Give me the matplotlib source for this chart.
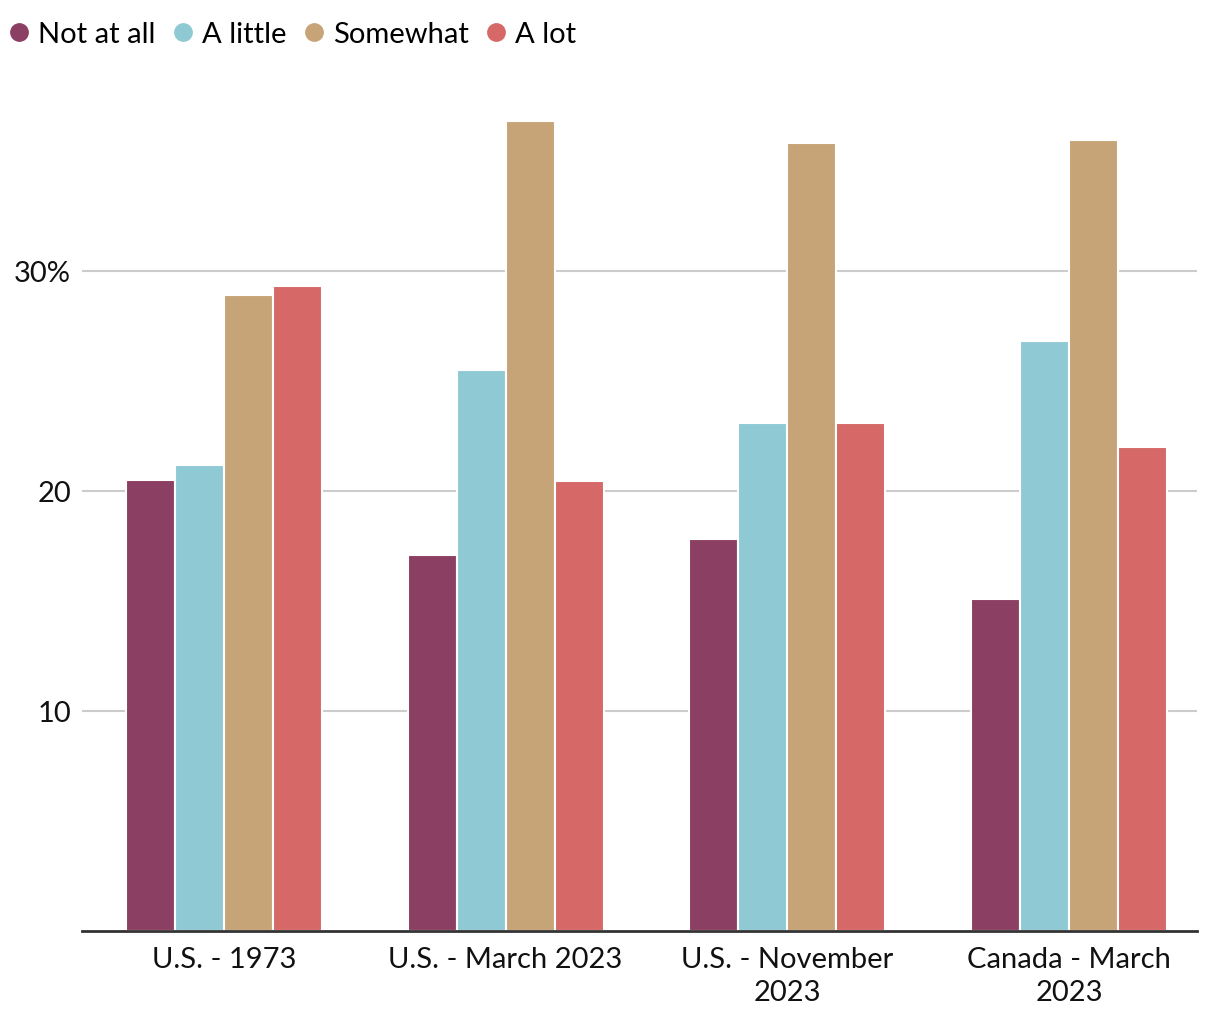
import numpy as np
import matplotlib.pyplot as plt
from matplotlib.lines import Line2D

plt.rcParams['font.family'] = ['Lato', 'DejaVu Sans']

# data (percent)
groups = ['U.S. - 1973', 'U.S. - March 2023', 'U.S. - November\n2023', 'Canada - March\n2023']
series = ['Not at all', 'A little', 'Somewhat', 'A lot']
not_at_all = [20.5, 17.1, 17.8, 15.1]
a_little = [21.2, 25.5, 23.1, 26.8]
somewhat = [28.9, 36.8, 35.8, 35.95]
a_lot = [29.3, 20.45, 23.1, 22.0]
colors = ['#8B3F62', '#8FCAD4', '#C7A478', '#D66868']

values = [not_at_all, a_little, somewhat, a_lot]

fig = plt.figure(figsize=(12.2, 10.2), dpi=100)
ax = fig.add_axes([82 / 1220, 1 - 932 / 1020, 1115 / 1220, 832 / 1020])

x = np.arange(len(groups))
step = 0.174
for i, (vals, c) in enumerate(zip(values, colors)):
    ax.bar(x + (i - 1.5) * step, vals, width=step, color=c,
           edgecolor='white', linewidth=1.5, zorder=3)

ax.set_xlim(-0.5035, 3.454)
ax.set_ylim(0, 832 / 22)
ax.set_yticks([10, 20, 30])
ax.set_yticklabels(['10', '20', '30%'])
ax.yaxis.grid(True, color='#cccccc', linewidth=1.5, zorder=0)
ax.tick_params(axis='y', length=0, pad=8, labelsize=21, labelcolor='#111111')
ax.set_xticks(x)
ax.set_xticklabels(groups, fontsize=21, color='#111111', linespacing=1.32)
ax.tick_params(axis='x', length=0, pad=11)
for s in ['top', 'right', 'left']:
    ax.spines[s].set_visible(False)
ax.spines['bottom'].set_color('#333333')
ax.spines['bottom'].set_linewidth(2)
ax.spines['bottom'].set_zorder(4)

handles = [Line2D([], [], marker='o', linestyle='', markersize=12.5,
                  markerfacecolor=c, markeredgecolor=c) for c in colors]
fig.legend(handles, series, loc='upper left', bbox_to_anchor=(-0.005, 0.99),
           ncol=4, frameon=False, fontsize=21, handletextpad=0.2,
           columnspacing=0.5, handlelength=0.9, borderaxespad=0.0)

fig.savefig('out.png', dpi=100)
